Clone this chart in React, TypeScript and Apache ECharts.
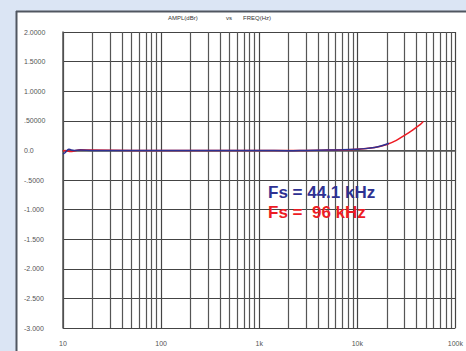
import React, { useEffect, useRef } from "react";
import * as echarts from "echarts";

// Frequency response, 44.1 kHz sampling (blue)
const fs441Freq = [10, 10.5, 11, 11.5, 12, 13, 15, 20, 50, 100, 200, 500, 1000, 2000, 3000, 5000, 7000, 10000, 12000, 15000, 17000, 19000, 21000];
const fs441Ampl = [-0.06, -0.04, 0.0, 0.02, 0.01, 0.0, 0.005, 0.0, 0.0, 0.0, 0.0, 0.0, 0.0, -0.005, 0.0, 0.005, 0.01, 0.02, 0.03, 0.05, 0.07, 0.095, 0.12];

// Frequency response, 96 kHz sampling (red)
const fs96Freq = [10, 10.5, 11, 12, 13, 15, 20, 50, 100, 1000, 3000, 5000, 10000, 15000, 20000, 25000, 30000, 35000, 40000, 44000, 47000];
const fs96Ampl = [-0.01, 0.0, -0.01, -0.02, -0.01, 0.01, 0.005, 0.0, 0.0, 0.0, 0.0, 0.005, 0.02, 0.05, 0.1, 0.17, 0.25, 0.32, 0.39, 0.44, 0.49];

const xTickValues = [10, 100, 1000, 10000, 100000];
const xTickLabels = ["10", "100", "1k", "10k", "100k"];
const yTickValues = [2, 1.5, 1, 0.5, 0, -0.5, -1, -1.5, -2, -2.5, -3];
const yTickLabels = ["2.0000", "1.5000", "1.0000", ".50000", "0.0", "-.5000", "-1.000", "-1.500", "-2.000", "-2.500", "-3.000"];
const gridMultiples = [2, 3, 4, 5, 6, 7, 8, 9];
const gridDecades = [10, 100, 1000, 10000];

const legend441 = "Fs = 44.1 kHz";
const legend96 = "Fs =  96 kHz";

export default function App() {
  const ref = useRef<HTMLDivElement>(null);
  useEffect(() => {
    document.body.style.margin = "0";
    if (!ref.current) return;
    const chart = echarts.init(ref.current, null, { renderer: "svg" });
    const minorLines: any[] = [];
    gridDecades.forEach((d) => gridMultiples.forEach((m) => minorLines.push({ xAxis: d * m })));
    const font = "Liberation Sans, Arial, sans-serif";
    chart.setOption({
      animation: false,
      backgroundColor: "#dbe5f4",
      graphic: [
        { type: "rect", shape: { x: 17, y: 12, width: 460, height: 345 }, style: { fill: "#ffffff" }, z: -10 },
        { type: "line", shape: { x1: 16.5, y1: 11, x2: 16.5, y2: 351 }, style: { stroke: "#505660", lineWidth: 2 }, z: -9 },
        { type: "line", shape: { x1: 16, y1: 11.5, x2: 466, y2: 11.5 }, style: { stroke: "#505660", lineWidth: 2 }, z: -9 },
        { type: "text", x: 168, y: 15, style: { text: "AMPL(dBr)", fill: "#333", font: `6px ${font}` } },
        { type: "text", x: 226, y: 15, style: { text: "vs", fill: "#333", font: `6px ${font}` } },
        { type: "text", x: 243, y: 15, style: { text: "FREQ(Hz)", fill: "#333", font: `6px ${font}` } },
        { type: "text", x: 268, y: 184, z: 100, style: { text: legend441, fill: "#2e3192", font: `bold 17px ${font}` } },
        { type: "text", x: 268, y: 204, z: 100, style: { text: legend96, fill: "#ed1c24", font: `bold 17px ${font}` } },
      ],
      grid: { left: 63, top: 32, right: 3, bottom: 23 },
      xAxis: {
        type: "log",
        logBase: 10,
        min: 10,
        max: 100000,
        axisLine: { show: true, lineStyle: { color: "#555", width: 1.5 } },
        axisTick: { show: false },
        splitLine: { show: true, lineStyle: { color: "#444", width: 1.2 } },
        axisLabel: {
          fontSize: 7,
          color: "#555",
          fontFamily: font,
          margin: 12,
          showMaxLabel: true,
          formatter: (v: number) => {
            const i = xTickValues.findIndex((t) => Math.abs(t - v) / t < 1e-6);
            return i >= 0 ? xTickLabels[i] : "";
          },
        },
      },
      yAxis: {
        type: "value",
        min: -3,
        max: 2,
        interval: 0.5,
        axisLine: { show: true, lineStyle: { color: "#555", width: 1.5 } },
        axisTick: { show: false },
        splitLine: { show: true, lineStyle: { color: "#444", width: 1.2 } },
        axisLabel: {
          fontSize: 7,
          color: "#555",
          fontFamily: font,
          align: "left",
          margin: 39,
          formatter: (v: number) => {
            const i = yTickValues.findIndex((t) => Math.abs(t - v) < 1e-6);
            return i >= 0 ? yTickLabels[i] : "";
          },
        },
      },
      series: [
        {
          type: "line",
          name: "96",
          data: fs96Freq.map((f, i) => [f, fs96Ampl[i]]),
          showSymbol: false,
          smooth: 0.3,
          lineStyle: { color: "#ed1c24", width: 1.5 },
          z: 3,
          markLine: {
            silent: true,
            symbol: "none",
            label: { show: false },
            lineStyle: { color: "#555", width: 1.2, type: "solid" },
            data: minorLines,
            z: 1,
          },
        },
        {
          type: "line",
          name: "44.1",
          data: fs441Freq.map((f, i) => [f, fs441Ampl[i]]),
          showSymbol: false,
          smooth: 0.3,
          lineStyle: { color: "#2e3192", width: 1.5 },
          z: 4,
        },
      ],
    });
    return () => chart.dispose();
  }, []);
  return <div ref={ref} style={{ position: "absolute", left: 0, top: 0, width: 466, height: 351 }} />;
}
